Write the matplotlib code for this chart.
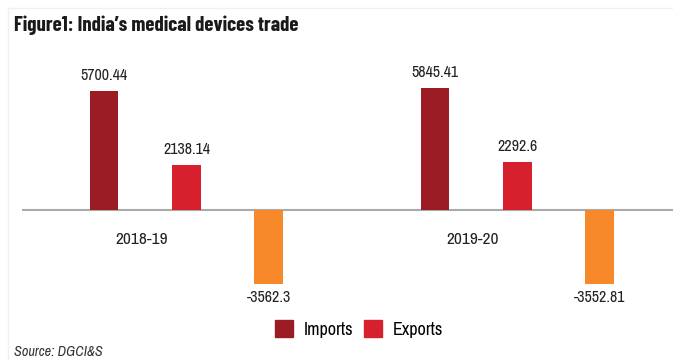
import matplotlib
matplotlib.use("Agg")
import matplotlib.pyplot as plt
from matplotlib.patches import Patch
import numpy as np

categories = ["2018-19", "2019-20"]
imports = [5700.44, 5845.41]
exports = [2138.14, 2292.6]
balance = [-3562.3, -3552.81]
import_labels = ["5700.44", "5845.41"]
export_labels = ["2138.14", "2292.6"]
balance_labels = ["-3562.3", "-3552.81"]

narrow = ["Archivo Narrow", "DejaVu Sans"]
title_font = ["Barlow Condensed", "DejaVu Sans"]

W, H = 673, 360
fig = plt.figure(figsize=(W/100, H/100), dpi=100)
ax = fig.add_axes([22/W, 1-300/H, (W-22)/W, 240/H])

c_imp = "#9b1c24"
c_exp = "#d7202d"
c_bal = "#f7892a"

x = np.arange(len(categories))
off = 0.248
bw = 0.085
ax.bar(x - off, imports, bw, color=c_imp, label="Imports")
ax.bar(x, exports, bw, color=c_exp, label="Exports")
ax.bar(x + off, balance, bw, color=c_bal)

ax.set_xlim(-0.497, 1.470)
ax.set_ylim(-4320, 7200)
ax.axhline(0, color="#aaaaaa", lw=1.5, zorder=0)
ax.axis("off")

lab_kw = dict(ha="center", fontsize=11.5, family=narrow, color="#222222")
for i in range(len(categories)):
    ax.annotate(import_labels[i], (x[i]-off, imports[i]), xytext=(0, 6), textcoords="offset points", va="bottom", **lab_kw)
    ax.annotate(export_labels[i], (x[i], exports[i]), xytext=(0, 6), textcoords="offset points", va="bottom", **lab_kw)
    ax.annotate(balance_labels[i], (x[i]+off, balance[i]), xytext=(0, -4), textcoords="offset points", va="top", **lab_kw)
    ax.annotate(categories[i], (x[i]-off/2, 0), xytext=(-3, -16), textcoords="offset points", va="top",
                ha="center", fontsize=12.5, family=narrow, color="#222222")

fig.text(14/W, 1-25/H, "Figure1: India\u2019s medical devices trade", fontsize=15, fontweight="bold",
         family=title_font, color="#1a1a1a", va="center", ha="left")
fig.text(14/W, 1-352/H, "Source: DGCI&S", fontsize=10.3, style="italic", family=narrow,
         color="#333333", va="center", ha="left")

handles = [Patch(color=c_imp, label="Imports"), Patch(color=c_exp, label="Exports")]
fig.legend(handles=handles, loc="center", bbox_to_anchor=(359/W, 1-329/H), ncol=2, frameon=False,
           handlelength=1.0, handleheight=1.1, handletextpad=0.6, columnspacing=0.6,
           prop={"family": narrow, "size": 13})

fig.lines.append(plt.Line2D([8/W, 8/W], [0, 1-8/H], transform=fig.transFigure, color="#f0f0f0", lw=1))
fig.lines.append(plt.Line2D([8/W, 1], [1-8/H, 1-8/H], transform=fig.transFigure, color="#f0f0f0", lw=1))

fig.savefig("out.png", dpi=100)
